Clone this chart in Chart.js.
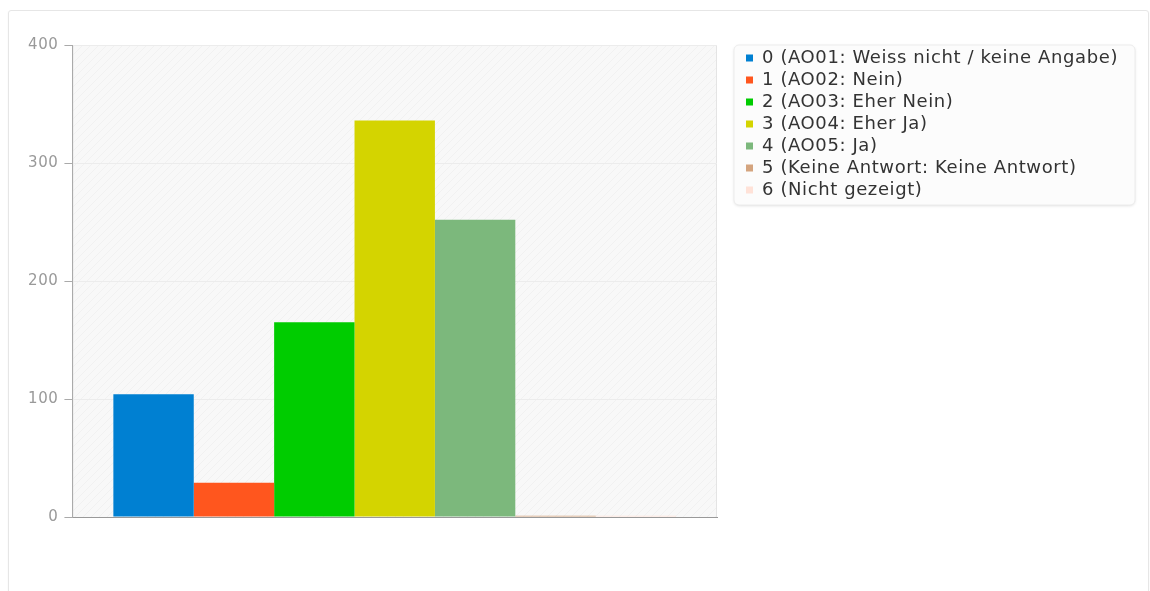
<!DOCTYPE html>
<html>
<head>
<meta charset="utf-8">
<script src="https://cdn.jsdelivr.net/npm/chart.js@4.4.0/dist/chart.umd.min.js"></script>
<style>
  body { margin: 0; background: #fff; }
  .card {
    position: absolute; left: 8px; top: 10px; width: 1139px; height: 600px;
    border: 1px solid #e6e6e6; border-radius: 3px;
    box-shadow: 0 1px 2px rgba(0,0,0,0.05);
  }
  .wrap { position: absolute; left: 0; top: 0; width: 1150px; height: 591px; }
</style>
</head>
<body>
<div class="card"></div>
<div class="wrap"><canvas id="chart"></canvas></div>
<script>
const categories = [""];
const seriesLabels = [
  "0 (AO01: Weiss nicht / keine Angabe)",
  "1 (AO02: Nein)",
  "2 (AO03: Eher Nein)",
  "3 (AO04: Eher Ja)",
  "4 (AO05: Ja)",
  "5 (Keine Antwort: Keine Antwort)",
  "6 (Nicht gezeigt)"
];
const seriesValues = [104, 29, 165, 336, 252, 1, 1];
const seriesColors = ["#0080d2", "#ff561e", "#00cc00", "#d4d400", "#7cb87c", "#d4a47e", "#ffe2d8"];
const yTicks = [0, 100, 200, 300, 400];

// diagonal hatch pattern for the plot background
function makeHatch() {
  const c = document.createElement("canvas");
  c.width = 8; c.height = 8;
  const g = c.getContext("2d");
  g.fillStyle = "#f8f8f8";
  g.fillRect(0, 0, 8, 8);
  g.strokeStyle = "#f1f1f1";
  g.lineWidth = 1;
  g.beginPath();
  g.moveTo(0, 8); g.lineTo(8, 0);
  g.moveTo(-4, 4); g.lineTo(4, -4);
  g.moveTo(4, 12); g.lineTo(12, 4);
  g.stroke();
  return g.createPattern(c, "repeat");
}

// the original text is slightly letter-spaced
// (set on every update/draw since a canvas resize resets the context)
const spacing = {
  id: "spacing",
  beforeUpdate(chart) { chart.ctx.letterSpacing = "0.6px"; },
  beforeLayout(chart) { chart.ctx.letterSpacing = "0.6px"; },
  beforeDraw(chart) { chart.ctx.letterSpacing = "0.6px"; }
};

const plotBackground = {
  id: "plotBackground",
  beforeDraw(chart) {
    const { ctx, chartArea: a } = chart;
    ctx.save();
    ctx.fillStyle = makeHatch();
    ctx.fillRect(a.left, a.top, a.right - a.left, a.bottom - a.top);
    ctx.strokeStyle = "#e4e4e4";
    ctx.lineWidth = 1;
    ctx.strokeRect(a.left + 0.5, a.top + 0.5, a.right - a.left - 1, a.bottom - a.top);
    ctx.restore();
  }
};

const legendBox = {
  id: "legendBox",
  beforeDraw(chart) {
    const boxes = chart.legend.legendHitBoxes;
    if (!boxes.length) return;
    const top = Math.min(...boxes.map(b => b.top)) - 4;
    const bottom = Math.max(...boxes.map(b => b.top + b.height)) + 6;
    const left = Math.min(...boxes.map(b => b.left)) - 12;
    const right = 1135;
    const { ctx } = chart;
    ctx.save();
    ctx.shadowColor = "rgba(0,0,0,0.12)";
    ctx.shadowBlur = 3;
    ctx.shadowOffsetY = 1;
    ctx.fillStyle = "#fcfcfc";
    ctx.beginPath();
    ctx.roundRect(left, top, right - left, bottom - top, 5);
    ctx.fill();
    ctx.shadowColor = "transparent";
    ctx.strokeStyle = "#ececec";
    ctx.stroke();
    ctx.restore();
  }
};

new Chart(document.getElementById("chart"), {
  type: "bar",
  data: {
    labels: categories,
    datasets: seriesLabels.map((label, i) => ({
      label: label,
      data: [seriesValues[i]],
      backgroundColor: seriesColors[i],
      borderWidth: 0
    }))
  },
  options: {
    responsive: true,
    maintainAspectRatio: false,
    animation: false,
    categoryPercentage: 0.873,
    barPercentage: 1,
    layout: {
      padding: { left: 22, top: 45, right: 22, bottom: 66 }
    },
    plugins: {
      tooltip: { enabled: false },
      legend: {
        position: "right",
        align: "start",
        maxWidth: 460,
        labels: {
          boxWidth: 7,
          boxHeight: 7,
          padding: 4,
          color: "#333",
          font: { family: "DejaVu Sans", size: 18 }
        }
      }
    },
    scales: {
      x: {
        grid: { display: false },
        ticks: { display: false },
        border: { color: "#999" }
      },
      y: {
        min: 0,
        max: 400,
        afterBuildTicks: s => { s.ticks = yTicks.map(v => ({ value: v })); },
        ticks: {
          color: "#999",
          padding: 6,
          font: { family: "DejaVu Sans", size: 15 }
        },
        grid: {
          color: "#ececec",
          tickColor: "#aaa",
          tickLength: 8
        },
        border: { color: "#aaa" }
      },
      gap: {
        type: "linear",
        position: "right",
        display: true,
        ticks: { display: false },
        grid: { display: false, drawTicks: false },
        border: { display: false },
        afterFit: s => { s.width = 25; }
      }
    }
  },
  plugins: [spacing, plotBackground, legendBox]
});
</script>
</body>
</html>
